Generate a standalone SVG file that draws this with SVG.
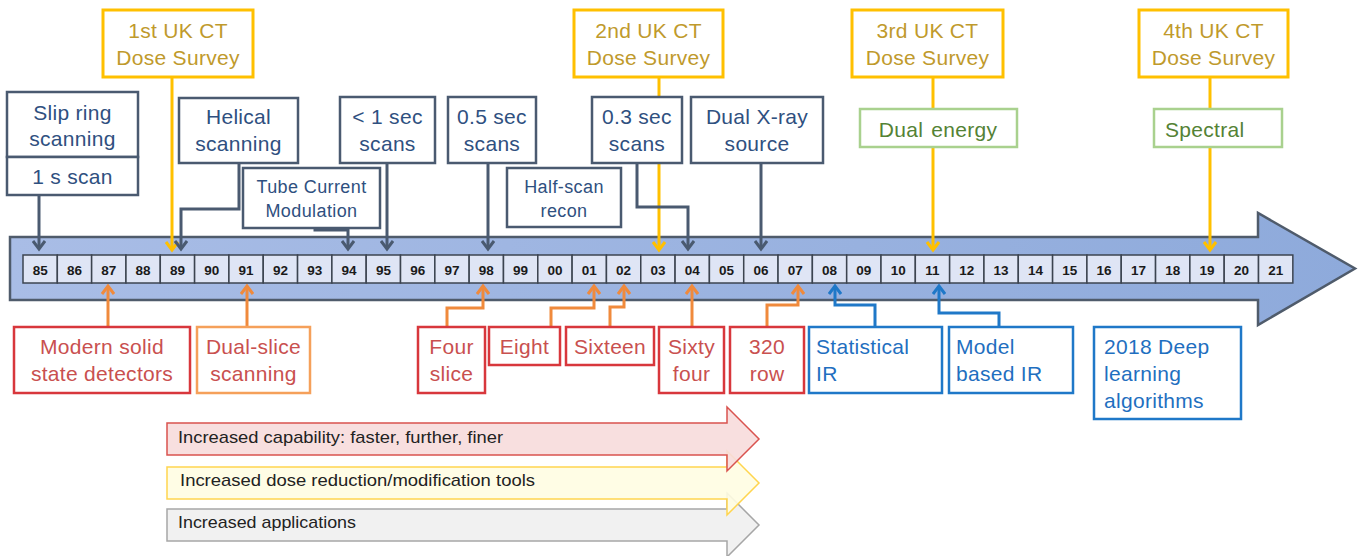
<svg xmlns="http://www.w3.org/2000/svg" width="1362" height="556" viewBox="0 0 1362 556">
  <style>
    text { font-family: "Liberation Sans", Arial, sans-serif; }
    .box { fill: #ffffff; stroke: #4a5a70; stroke-width: 2.5; }
    .t-dark { fill: #2f5080; font-size: 21px; text-anchor: middle; letter-spacing: 0.3px; }
    .t-small { fill: #2f5080; font-size: 18px; text-anchor: middle; letter-spacing: 0.4px; }
    .survey { fill: #ffffff; stroke: #ffc000; stroke-width: 3; }
    .t-survey { fill: #bf9a2c; font-size: 21px; text-anchor: middle; letter-spacing: 0.3px; }
    .green { fill: #ffffff; stroke: #a9d18e; stroke-width: 2.5; }
    .t-green { fill: #548235; font-size: 21px; letter-spacing: 0.3px; word-spacing: 2px; }
    .red { fill: #ffffff; stroke: #d8373c; stroke-width: 2.5; }
    .orange { fill: #ffffff; stroke: #f5a05a; stroke-width: 2.5; }
    .t-red { fill: #c9504f; font-size: 21px; text-anchor: middle; letter-spacing: 0.3px; }
    .blue { fill: #ffffff; stroke: #1f78c8; stroke-width: 2.5; }
    .t-blue { fill: #1f6fc0; font-size: 21px; letter-spacing: 0.3px; }
    .cell { fill: #dfe5f5; stroke: #3c4450; stroke-width: 1.5; }
    .t-cell { fill: #1a1a1a; font-size: 13.5px; font-weight: bold; text-anchor: middle; }
    .c-dark { fill: none; stroke: #4a5a70; stroke-width: 3; marker-end: url(#arrDark); }
    .c-yellow { fill: none; stroke: #ffc000; stroke-width: 3; marker-end: url(#arrYellow); }
    .c-orange { fill: none; stroke: #f08a3c; stroke-width: 3; marker-end: url(#arrOrange); }
    .c-blue { fill: none; stroke: #1f78c8; stroke-width: 3; marker-end: url(#arrBlue); }
    .t-band { fill: #222222; font-size: 17px; }
  </style>
  <defs>
    <linearGradient id="shaft" x1="0" y1="0" x2="1" y2="0">
      <stop offset="0" stop-color="#a9bde6"/>
      <stop offset="1" stop-color="#8eaadb"/>
    </linearGradient>
    <marker id="arrDark" viewBox="0 0 12 14" refX="9" refY="7" markerWidth="12" markerHeight="14" markerUnits="userSpaceOnUse" orient="auto">
      <path d="M1,1 L9,7 L1,13" fill="none" stroke="#4a5a70" stroke-width="3"/>
    </marker>
    <marker id="arrYellow" viewBox="0 0 12 14" refX="9" refY="7" markerWidth="12" markerHeight="14" markerUnits="userSpaceOnUse" orient="auto">
      <path d="M1,1 L9,7 L1,13" fill="none" stroke="#ffc000" stroke-width="3"/>
    </marker>
    <marker id="arrOrange" viewBox="0 0 12 14" refX="9" refY="7" markerWidth="12" markerHeight="14" markerUnits="userSpaceOnUse" orient="auto">
      <path d="M1,1 L9,7 L1,13" fill="none" stroke="#f08a3c" stroke-width="3"/>
    </marker>
    <marker id="arrBlue" viewBox="0 0 12 14" refX="9" refY="7" markerWidth="12" markerHeight="14" markerUnits="userSpaceOnUse" orient="auto">
      <path d="M1,1 L9,7 L1,13" fill="none" stroke="#1f78c8" stroke-width="3"/>
    </marker>
  </defs>

  <!-- timeline arrow -->
  <g id="timeline">
    <path d="M10,237 H1258 V213 L1355,268.5 L1258,325 V300 H10 Z" fill="url(#shaft)" stroke="#4f5b6b" stroke-width="2.5"/>
  </g>

  <!-- connectors (drawn before boxes so boxes mask the lines passing behind them) -->
  <g id="connectors">
    <path class="c-yellow" d="M172,77 V250"/>
    <path class="c-yellow" d="M659,77 V250"/>
    <path class="c-yellow" d="M933,77 V250"/>
    <path class="c-yellow" d="M1210,77 V250"/>
    <path class="c-dark" d="M39,195 V249"/>
    <path class="c-dark" d="M239,163 V209 H181 V249"/>
    <path class="c-dark" d="M315,228 V230 H348 V249"/>
    <path class="c-dark" d="M387,163 V249"/>
    <path class="c-dark" d="M488,163 V249"/>
    <path class="c-dark" d="M637,163 V207 H688 V249"/>
    <path class="c-dark" d="M761,163 V249"/>
    <path class="c-orange" d="M108,327 V286"/>
    <path class="c-orange" d="M247,327 V286"/>
    <path class="c-orange" d="M447,327 V308 H483 V286"/>
    <path class="c-orange" d="M551,327 V308 H594 V286"/>
    <path class="c-orange" d="M610,327 V307 H624 V286"/>
    <path class="c-orange" d="M692,327 V286"/>
    <path class="c-orange" d="M767,327 V305 H798 V286"/>
    <path class="c-blue" d="M875,327 V305 H835 V286"/>
    <path class="c-blue" d="M999,327 V313 H939 V286"/>
  </g>

  <!-- year cells -->
  <g id="years">
    <rect class="cell" x="23" y="255" width="34.32" height="28"/><text class="t-cell" x="40.2" y="275">85</text>
    <rect class="cell" x="57.32" y="255" width="34.32" height="28"/><text class="t-cell" x="74.5" y="275">86</text>
    <rect class="cell" x="91.64" y="255" width="34.32" height="28"/><text class="t-cell" x="108.8" y="275">87</text>
    <rect class="cell" x="125.96" y="255" width="34.32" height="28"/><text class="t-cell" x="143.1" y="275">88</text>
    <rect class="cell" x="160.28" y="255" width="34.32" height="28"/><text class="t-cell" x="177.4" y="275">89</text>
    <rect class="cell" x="194.6" y="255" width="34.32" height="28"/><text class="t-cell" x="211.8" y="275">90</text>
    <rect class="cell" x="228.92" y="255" width="34.32" height="28"/><text class="t-cell" x="246.1" y="275">91</text>
    <rect class="cell" x="263.24" y="255" width="34.32" height="28"/><text class="t-cell" x="280.4" y="275">92</text>
    <rect class="cell" x="297.56" y="255" width="34.32" height="28"/><text class="t-cell" x="314.7" y="275">93</text>
    <rect class="cell" x="331.88" y="255" width="34.32" height="28"/><text class="t-cell" x="349" y="275">94</text>
    <rect class="cell" x="366.2" y="255" width="34.32" height="28"/><text class="t-cell" x="383.4" y="275">95</text>
    <rect class="cell" x="400.52" y="255" width="34.32" height="28"/><text class="t-cell" x="417.7" y="275">96</text>
    <rect class="cell" x="434.84" y="255" width="34.32" height="28"/><text class="t-cell" x="452" y="275">97</text>
    <rect class="cell" x="469.16" y="255" width="34.32" height="28"/><text class="t-cell" x="486.3" y="275">98</text>
    <rect class="cell" x="503.48" y="255" width="34.32" height="28"/><text class="t-cell" x="520.6" y="275">99</text>
    <rect class="cell" x="537.8" y="255" width="34.32" height="28"/><text class="t-cell" x="555" y="275">00</text>
    <rect class="cell" x="572.12" y="255" width="34.32" height="28"/><text class="t-cell" x="589.3" y="275">01</text>
    <rect class="cell" x="606.44" y="255" width="34.32" height="28"/><text class="t-cell" x="623.6" y="275">02</text>
    <rect class="cell" x="640.76" y="255" width="34.32" height="28"/><text class="t-cell" x="657.9" y="275">03</text>
    <rect class="cell" x="675.08" y="255" width="34.32" height="28"/><text class="t-cell" x="692.2" y="275">04</text>
    <rect class="cell" x="709.4" y="255" width="34.32" height="28"/><text class="t-cell" x="726.6" y="275">05</text>
    <rect class="cell" x="743.72" y="255" width="34.32" height="28"/><text class="t-cell" x="760.9" y="275">06</text>
    <rect class="cell" x="778.04" y="255" width="34.32" height="28"/><text class="t-cell" x="795.2" y="275">07</text>
    <rect class="cell" x="812.36" y="255" width="34.32" height="28"/><text class="t-cell" x="829.5" y="275">08</text>
    <rect class="cell" x="846.68" y="255" width="34.32" height="28"/><text class="t-cell" x="863.8" y="275">09</text>
    <rect class="cell" x="881" y="255" width="34.32" height="28"/><text class="t-cell" x="898.2" y="275">10</text>
    <rect class="cell" x="915.32" y="255" width="34.32" height="28"/><text class="t-cell" x="932.5" y="275">11</text>
    <rect class="cell" x="949.64" y="255" width="34.32" height="28"/><text class="t-cell" x="966.8" y="275">12</text>
    <rect class="cell" x="983.96" y="255" width="34.32" height="28"/><text class="t-cell" x="1001.1" y="275">13</text>
    <rect class="cell" x="1018.28" y="255" width="34.32" height="28"/><text class="t-cell" x="1035.4" y="275">14</text>
    <rect class="cell" x="1052.6" y="255" width="34.32" height="28"/><text class="t-cell" x="1069.8" y="275">15</text>
    <rect class="cell" x="1086.92" y="255" width="34.32" height="28"/><text class="t-cell" x="1104.1" y="275">16</text>
    <rect class="cell" x="1121.24" y="255" width="34.32" height="28"/><text class="t-cell" x="1138.4" y="275">17</text>
    <rect class="cell" x="1155.56" y="255" width="34.32" height="28"/><text class="t-cell" x="1172.7" y="275">18</text>
    <rect class="cell" x="1189.88" y="255" width="34.32" height="28"/><text class="t-cell" x="1207" y="275">19</text>
    <rect class="cell" x="1224.2" y="255" width="34.32" height="28"/><text class="t-cell" x="1241.4" y="275">20</text>
    <rect class="cell" x="1258.52" y="255" width="34.32" height="28"/><text class="t-cell" x="1275.7" y="275">21</text>
  </g>

  <!-- dose surveys -->
  <g id="survey1"><rect class="survey" x="103" y="10" width="150" height="67"/><text class="t-survey" x="178" y="38">1st UK CT</text><text class="t-survey" x="178" y="65">Dose Survey</text></g>
  <g id="survey2"><rect class="survey" x="574" y="10" width="149" height="67"/><text class="t-survey" x="648.5" y="38">2nd UK CT</text><text class="t-survey" x="648.5" y="65">Dose Survey</text></g>
  <g id="survey3"><rect class="survey" x="852" y="10" width="151" height="67"/><text class="t-survey" x="927.5" y="38">3rd UK CT</text><text class="t-survey" x="927.5" y="65">Dose Survey</text></g>
  <g id="survey4"><rect class="survey" x="1139" y="10" width="149" height="67"/><text class="t-survey" x="1213.5" y="38">4th UK CT</text><text class="t-survey" x="1213.5" y="65">Dose Survey</text></g>

  <!-- scanner milestones -->
  <g id="slip-ring">
    <rect class="box" x="7" y="92" width="131" height="65"/>
    <rect class="box" x="7" y="157" width="131" height="38"/>
    <text class="t-dark" x="72.5" y="120">Slip ring</text>
    <text class="t-dark" x="72.5" y="146">scanning</text>
    <text class="t-dark" x="72.5" y="184">1 s scan</text>
  </g>
  <g id="helical"><rect class="box" x="179" y="98" width="119" height="65"/><text class="t-dark" x="238.5" y="124">Helical</text><text class="t-dark" x="238.5" y="151">scanning</text></g>
  <g id="tcm"><rect class="box" x="243" y="168" width="137" height="60"/><text class="t-small" x="311.5" y="193">Tube Current</text><text class="t-small" x="311.5" y="217">Modulation</text></g>
  <g id="sub-1s"><rect class="box" x="340" y="97" width="95" height="66"/><text class="t-dark" x="387.5" y="124">&lt; 1 sec</text><text class="t-dark" x="387.5" y="151">scans</text></g>
  <g id="half-sec"><rect class="box" x="448" y="97" width="88" height="66"/><text class="t-dark" x="492" y="124">0.5 sec</text><text class="t-dark" x="492" y="151">scans</text></g>
  <g id="half-scan"><rect class="box" x="507" y="168" width="114" height="59"/><text class="t-small" x="564" y="193">Half-scan</text><text class="t-small" x="564" y="217">recon</text></g>
  <g id="third-sec"><rect class="box" x="592" y="97" width="90" height="66"/><text class="t-dark" x="637" y="124">0.3 sec</text><text class="t-dark" x="637" y="151">scans</text></g>
  <g id="dual-source"><rect class="box" x="691" y="97" width="132" height="66"/><text class="t-dark" x="757" y="124">Dual X-ray</text><text class="t-dark" x="757" y="151">source</text></g>

  <!-- energy -->
  <g id="dual-energy"><rect class="green" x="860" y="109" width="157" height="38"/><text class="t-green" x="938" y="137" text-anchor="middle">Dual energy</text></g>
  <g id="spectral"><rect class="green" x="1154" y="109" width="128" height="38"/><text class="t-green" x="1165" y="137">Spectral</text></g>

  <!-- detectors -->
  <g id="solid-state"><rect class="red" x="14" y="327" width="176" height="66"/><text class="t-red" x="102" y="354">Modern solid</text><text class="t-red" x="102" y="381">state detectors</text></g>
  <g id="dual-slice"><rect class="orange" x="197" y="327" width="113" height="66"/><text class="t-red" x="253.5" y="354">Dual-slice</text><text class="t-red" x="253.5" y="381">scanning</text></g>
  <g id="four-slice"><rect class="red" x="418" y="327" width="67" height="66"/><text class="t-red" x="451.5" y="354">Four</text><text class="t-red" x="451.5" y="381">slice</text></g>
  <g id="eight"><rect class="red" x="489" y="327" width="71" height="38"/><text class="t-red" x="524.5" y="354">Eight</text></g>
  <g id="sixteen"><rect class="red" x="566" y="327" width="88" height="38"/><text class="t-red" x="610" y="354">Sixteen</text></g>
  <g id="sixty-four"><rect class="red" x="659" y="327" width="65" height="66"/><text class="t-red" x="691.5" y="354">Sixty</text><text class="t-red" x="691.5" y="381">four</text></g>
  <g id="row-320"><rect class="red" x="730" y="327" width="74" height="66"/><text class="t-red" x="767" y="354">320</text><text class="t-red" x="767" y="381">row</text></g>

  <!-- reconstruction -->
  <g id="statistical-ir"><rect class="blue" x="809" y="327" width="133" height="66"/><text class="t-blue" x="816" y="354">Statistical</text><text class="t-blue" x="816" y="381">IR</text></g>
  <g id="model-ir"><rect class="blue" x="949" y="327" width="124" height="66"/><text class="t-blue" x="956" y="354">Model</text><text class="t-blue" x="956" y="381">based IR</text></g>
  <g id="deep-learning"><rect class="blue" x="1094" y="327" width="147" height="92"/><text class="t-blue" x="1104" y="354">2018 Deep</text><text class="t-blue" x="1104" y="381">learning</text><text class="t-blue" x="1104" y="408">algorithms</text></g>

  <!-- trend bands -->
  <g id="band-applications">
    <path d="M167,509 H727 V493 L759,525 L727,557 V541 H167 Z" fill="#f0f0f0" fill-opacity="0.92" stroke="#a6a6a6" stroke-width="1.5"/>
    <text class="t-band" x="178" y="528" textLength="178" lengthAdjust="spacingAndGlyphs">Increased applications</text>
  </g>
  <g id="band-dose">
    <path d="M167,467 H727 V451 L759,483 L727,515 V499 H167 Z" fill="#fffde2" fill-opacity="0.9" stroke="#ffd54f" stroke-width="1.5"/>
    <text class="t-band" x="180" y="486" textLength="355" lengthAdjust="spacingAndGlyphs">Increased dose reduction/modification tools</text>
  </g>
  <g id="band-capability">
    <path d="M167,423 H727 V407 L759,439 L727,471 V455 H167 Z" fill="#f7dcdc" fill-opacity="0.9" stroke="#d9534f" stroke-width="1.5"/>
    <text class="t-band" x="178" y="443" textLength="325" lengthAdjust="spacingAndGlyphs">Increased capability: faster, further, finer</text>
  </g>
</svg>
